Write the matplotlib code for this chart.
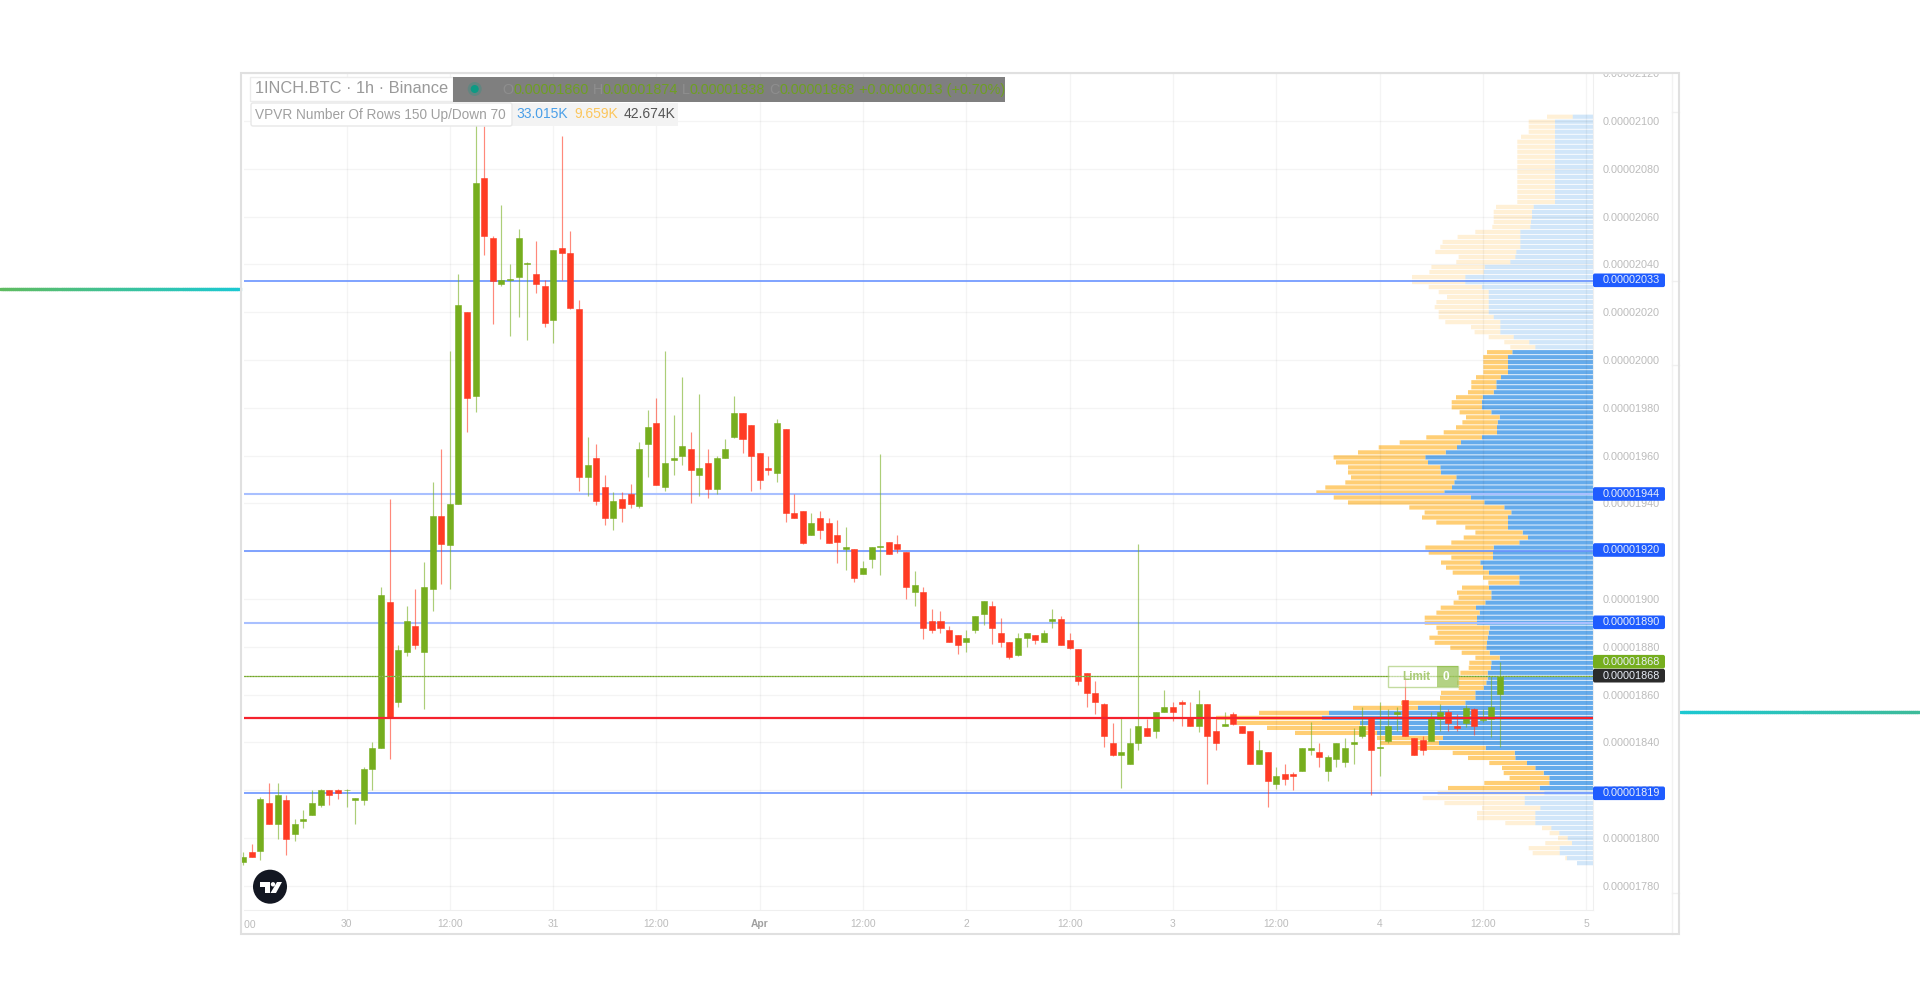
import numpy as np
import matplotlib
matplotlib.use("Agg")
import matplotlib.pyplot as plt
from matplotlib.collections import LineCollection
from matplotlib.colors import LinearSegmentedColormap
from matplotlib.patches import Circle, FancyBboxPatch, Polygon, Rectangle
from matplotlib.transforms import Affine2D, Bbox

plt.rcParams["font.family"] = ["Liberation Sans", "DejaVu Sans"]

# prices are in units of 0.00000001 BTC, hours count from 30 March 00:00
first_hour = -12

candle_open = [
    1790, 1794, 1794.7, 1814.8, 1805.8, 1816, 1801.8, 1807, 1809.8, 1813.7,
    1820, 1819.9, 1820, 1816, 1816, 1828.7, 1837.8, 1898.9, 1857, 1877.9,
    1888.9, 1877.9, 1904, 1934.9, 1922.8, 1939.7, 2019.9, 1985, 2076, 2050.9,
    2031.8, 2033.4, 2034.8, 2040.1, 2036, 2030.9, 2016.7, 2046.7, 2044.9, 2021.2,
    1951.2, 1958.9, 1946.8, 1933.9, 1942, 1943.9, 1938.9, 1964.8, 1973.8, 1947,
    1958, 1960, 1962.8, 1951.9, 1956.9, 1945.9, 1958.9, 1967.8, 1978, 1973,
    1960.9, 1954.9, 1952.9, 1971, 1936, 1936.8, 1926.8, 1934, 1931.9, 1926.9,
    1920.9, 1920.9, 1910.4, 1916.9, 1921.6, 1923.7, 1922.9, 1919.8, 1902.8, 1902.8,
    1890.9, 1890.9, 1887, 1884.9, 1881.9, 1886.9, 1893.7, 1896.9, 1885.9, 1881.9,
    1876.7, 1883.9, 1884.9, 1881.9, 1891, 1891.8, 1882.8, 1878.9, 1868.9, 1860.9,
    1855.9, 1839.9, 1834.8, 1830.9, 1839.9, 1845.9, 1844.9, 1852.8, 1854.8, 1857,
    1850.7, 1846.8, 1855.9, 1844.9, 1846.8, 1852, 1846.8, 1844.9, 1830.9, 1835.8,
    1822.7, 1826.8, 1826.8, 1827.9, 1836.8, 1835.8, 1827.9, 1832.9, 1831.9, 1839.5,
    1842.8, 1850.6, 1837.5, 1840.8, 1852, 1857.7, 1841.8, 1841, 1840.8, 1849.8,
    1852.8, 1846.8, 1848, 1853.8, 1849.4, 1849.8, 1860.1,
]
candle_high = [
    1794, 1797.7, 1817, 1822.9, 1822.9, 1818, 1807.8, 1811.7, 1820, 1820.7,
    1820.3, 1820.7, 1820.7, 1816.9, 1829.8, 1840, 1904.9, 1942, 1880.7, 1897,
    1904, 1915.6, 1949.1, 1962.8, 2003.7, 2036.2, 2019.9, 2100, 2098, 2051.9,
    2064.8, 2040, 2055, 2041, 2049.9, 2033.7, 2046, 2093.9, 2054, 2025,
    1967.9, 1964.8, 1951.9, 1944.9, 1944.9, 1948, 1965.8, 1979, 1984, 2003.7,
    1977, 1992.7, 1970, 1986, 1962.8, 1959.8, 1967, 1985, 1978, 1973,
    1960.9, 1960, 1975.2, 1971, 1943.9, 1936.8, 1935.8, 1936.8, 1934, 1932.9,
    1930, 1920.9, 1915.9, 1921.9, 1960.7, 1923.7, 1926.9, 1919.8, 1911.8, 1904.9,
    1895.8, 1895, 1888.8, 1884.9, 1887, 1892.9, 1899, 1899, 1891.9, 1881.9,
    1885.9, 1885.9, 1884.9, 1887, 1895.8, 1892.9, 1885.9, 1878.9, 1868.9, 1865.8,
    1856.7, 1848, 1850.7, 1845.9, 1923, 1849.8, 1852.8, 1861.9, 1857, 1857.7,
    1857, 1861.9, 1855.9, 1849.8, 1852.7, 1852.7, 1846.8, 1844.9, 1841, 1835.8,
    1829.8, 1830.9, 1827.7, 1837.8, 1848.6, 1839.9, 1834.8, 1839.9, 1841.7, 1845.9,
    1854.9, 1850.6, 1856.9, 1853.9, 1854.9, 1867.5, 1841.8, 1842.6, 1852.8, 1855.9,
    1853.9, 1852, 1855.6, 1854.5, 1853.8, 1867.8, 1873.8,
]
candle_low = [
    1788.8, 1791.9, 1791, 1805.8, 1799.8, 1792.9, 1798.9, 1804, 1809.8, 1813.1,
    1813.8, 1816.2, 1813.1, 1805.8, 1813.8, 1820, 1837.8, 1833, 1855, 1876.1,
    1878.9, 1854.2, 1895.1, 1906.3, 1904, 1939.7, 1970, 1978.1, 2043.9, 2015,
    2031.1, 2010, 2018.1, 2008.3, 2027.9, 2013.9, 2007, 2033.7, 2021.2, 1945.2,
    1943.2, 1939.3, 1930.9, 1929.1, 1932.1, 1937.9, 1938.3, 1951.2, 1947.8, 1945.2,
    1951.9, 1956, 1940, 1943.2, 1942.1, 1943.9, 1958.9, 1967.2, 1960.9, 1945.2,
    1945.9, 1951.9, 1949.1, 1932.1, 1933.9, 1923, 1926.8, 1925, 1923.6, 1914.9,
    1912.1, 1907, 1910.4, 1913.1, 1910, 1919, 1919.1, 1900, 1897, 1883.1,
    1886, 1886, 1881.9, 1876.9, 1877.9, 1886, 1889.1, 1881, 1880, 1875,
    1876.1, 1880, 1881, 1881.9, 1888, 1880.9, 1878.9, 1864, 1854.9, 1852.1,
    1837.9, 1834.3, 1821, 1830.9, 1837, 1842.8, 1841.7, 1852.8, 1848.9, 1847,
    1846.8, 1844.2, 1822.8, 1837, 1846.8, 1847.1, 1843.8, 1830.9, 1830.9, 1813,
    1820.7, 1822, 1820, 1827.9, 1834.8, 1829.8, 1824, 1829.8, 1829.8, 1830.9,
    1842, 1818, 1825.9, 1839.9, 1845, 1842.8, 1834.8, 1834.8, 1840.8, 1844.9,
    1844.9, 1844.9, 1846.3, 1843.1, 1848.7, 1842.1, 1838.2,
]
candle_close = [
    1792, 1792, 1816.2, 1805.8, 1818, 1799.8, 1805.8, 1807.8, 1814.8, 1820,
    1817.9, 1818.8, 1820.2, 1816.8, 1828.7, 1837.8, 1901.9, 1850.8, 1878.6, 1891,
    1880.7, 1904.9, 1934.9, 1923, 1939.7, 2023, 1984, 2073.9, 2051.9, 2033,
    2033.4, 2034, 2050.9, 2040.8, 2031.8, 2015.7, 2046, 2044.9, 2021.6, 1951.2,
    1956, 1941, 1933.9, 1941, 1937.9, 1939.9, 1962.8, 1971.8, 1947.8, 1956.9,
    1958.9, 1964, 1954, 1954.9, 1945.9, 1958.9, 1962.8, 1978, 1966.9, 1960,
    1949.8, 1954, 1973.8, 1935.8, 1933.9, 1923.6, 1931.9, 1928.9, 1923.6, 1923.7,
    1921.9, 1908.6, 1913, 1921.9, 1922.2, 1919, 1920.9, 1904.9, 1905.8, 1887.8,
    1886.9, 1887.8, 1881.9, 1880.7, 1883.9, 1892.9, 1899, 1887.8, 1881.9, 1875.9,
    1883.9, 1885.9, 1882.8, 1885.9, 1891.8, 1880.9, 1879.7, 1865.8, 1860.9, 1857,
    1842.8, 1834.7, 1835.8, 1839.9, 1846.8, 1842.8, 1852.8, 1854.8, 1852.8, 1856,
    1846.8, 1855.9, 1842.8, 1839.9, 1847.8, 1847.8, 1843.8, 1830.9, 1836.9, 1823.8,
    1825.8, 1824.8, 1825.9, 1837.8, 1837.8, 1833.9, 1833.9, 1839.9, 1837.8, 1840.1,
    1847, 1836.8, 1838.2, 1846.8, 1852.7, 1842.8, 1834.8, 1836.8, 1850.6, 1852.7,
    1848, 1846, 1854.5, 1846.9, 1850, 1854.7, 1867.8,
]

# volume profile rows, top row first
up_volume = [
    20.3, 38, 38, 38, 38, 38, 38, 38, 38, 38,
    38, 38, 38, 38, 38, 38, 38, 38, 59.3, 61,
    61, 62, 62.7, 72.7, 72.7, 72.7, 72.7, 76.7, 77.7, 82.7,
    108.3, 109.3, 127.7, 127.7, 111, 104.3, 104.3, 104.3, 104.3, 104.3,
    99.3, 92.7, 92.7, 92.7, 79.3, 63.7, 57.7, 80.7, 85, 85,
    85, 85, 92, 96.7, 96.7, 99.3, 110.3, 111, 111, 101.7,
    93.3, 95.3, 96, 96, 111, 132, 136, 147.3, 167.7, 165,
    152.7, 152, 136.7, 138.7, 141, 148.7, 122, 108.7, 88.7, 81.7,
    85, 85, 85, 70.3, 65, 73.7, 99.3, 100, 100, 112.7,
    110, 104, 73.7, 73.7, 104, 101.7, 101.7, 107.7, 117, 113.3,
    116, 116, 103.3, 104.3, 105.3, 106, 106.7, 103.3, 93.3, 101.7,
    102, 105.3, 105.3, 106.7, 109.3, 117.7, 117.7, 127.7, 175, 264,
    271, 233, 223, 216, 150, 154, 107.3, 78.3, 77.7, 66,
    57.7, 49.3, 43.7, 43.7, 53.3, 48.7, 68.3, 68.3, 52.7, 57.7,
    57.7, 57.7, 41.7, 33.7, 25.3, 21, 33.3, 33.3, 26, 16,
]
down_volume = [
    25.7, 26.3, 26.3, 26.3, 34, 37.7, 37.7, 37.7, 37.7, 37.7,
    37.7, 37.7, 37.7, 37.7, 37.7, 37.7, 37.7, 37.7, 37.7, 38.3,
    38.3, 37.3, 38, 45, 62.7, 77.7, 80, 81, 56.7, 54,
    53.3, 54.3, 53.3, 53.3, 53.3, 50, 41.7, 52.3, 54, 50,
    55, 55, 29.3, 25.7, 25, 25, 25, 25.3, 24.7, 24.7,
    24.7, 24.7, 25, 25, 25, 25.7, 26.7, 30.3, 30.3, 31.7,
    33.7, 35.3, 41, 53.3, 55.7, 61.3, 78.3, 87.7, 91.7, 92,
    92.3, 93, 105.3, 109, 126.7, 128, 137.3, 136.3, 95, 86.7,
    86, 71.7, 42.7, 47.3, 64.3, 68, 68.3, 64.3, 41.7, 39.3,
    37, 36.3, 36.3, 31, 27, 34.3, 32.7, 31.7, 35.3, 43.3,
    52.3, 52.3, 53.3, 51, 58.3, 52.3, 36, 28, 24.3, 22,
    22.3, 27.3, 29, 29.3, 25, 34.3, 35.3, 64.3, 65, 70,
    106, 123, 103, 82, 66, 59, 69, 62, 47.3, 37.7,
    33.3, 40, 39.7, 65, 91.7, 106.7, 102, 80.3, 58.3, 58.3,
    58.3, 30, 9.3, 9.7, 9.7, 26.7, 31, 27, 1.7, 0,
]
value_area_first = 47
value_area_last = 134

blue_levels = [2033, 1944, 1920, 1890, 1819]
pale_levels = [1944, 1890]
red_level = 1850.3
limit_level = 1868

price_ticks = list(range(1780, 2121, 20))
price_tick_labels = [f"0.0000{p}" for p in price_ticks]
time_ticks = list(range(0, 145, 12))
time_tick_labels = ["30", "12:00", "31", "12:00", "Apr", "12:00", "2", "12:00", "3",
                    "12:00", "4", "12:00", "5"]

price_tags = [
    ("0.00002033", 280.3, "#1f5cff"),
    ("0.00001944", 494, "#1f5cff"),
    ("0.00001920", 550, "#1f5cff"),
    ("0.00001890", 622.3, "#1f5cff"),
    ("0.00001819", 793.3, "#1f5cff"),
    ("0.00001868", 661.7, "#76ae1e"),
    ("0.00001868", 675.7, "#2b2b2b"),
]

GREEN = "#76ae1e"
RED = "#ff3b24"
UP_COLOR = "#4a9ce8"
DOWN_COLOR = "#ffc65c"
GRID_ALPHA = 0.045

W, H = 1920, 1008
fig = plt.figure(figsize=(W / 100, H / 100), dpi=100, facecolor="white")
# decorations outside the scales are placed in image pixels
px = Affine2D().scale(1, -1).translate(0, H)


def px_axes(left, top, right, bottom):
    return [left / W, 1 - bottom / H, (right - left) / W, (bottom - top) / H]


def px_text(x, y, s, **kw):
    kw.setdefault("va", "center")
    kw.setdefault("zorder", 20)
    return fig.text(x, y, s, transform=px, **kw)


def px_rect(x0, y0, x1, y1, rounded=False, **kw):
    kw.setdefault("zorder", 15)
    if rounded:
        patch = FancyBboxPatch((x0 + 2, y0 + 2), x1 - x0 - 4, y1 - y0 - 4,
                               boxstyle="round,pad=2,rounding_size=2", transform=px, **kw)
    else:
        patch = Rectangle((x0, y0), x1 - x0, y1 - y0, transform=px, **kw)
    fig.add_artist(patch)
    return patch


def px_line(x0, y0, x1, y1, **kw):
    line = plt.Line2D([x0, x1], [y0, y1], transform=px, **kw)
    fig.add_artist(line)


def gradient_line(x0, x1, y, left_color, right_color):
    xs = np.linspace(x0, x1, 120)
    segs = [[(a, y), (b, y)] for a, b in zip(xs[:-1], xs[1:])]
    cmap = LinearSegmentedColormap.from_list("g", [left_color, right_color])
    lc = LineCollection(segs, colors=cmap(np.linspace(0, 1, len(segs))), linewidths=2.3,
                        transform=px, capstyle="projecting", zorder=1)
    fig.add_artist(lc)


# volume profile sits under the chart axes
ax = fig.add_axes(px_axes(244, 73, 1593, 910), zorder=2)
ax.patch.set_visible(False)
ax.set_xlim(-11.91, 144.8)
ax.set_ylim(1769.9, 2120.1)

ax_vp = fig.add_axes(px_axes(244, 73, 1593, 910), zorder=1, sharey=ax)
ax_vp.set_xlim(1349, 0)
ax_vp.axis("off")

up = np.array(up_volume)
down = np.array(down_volume)
rows = np.arange(len(up))
row_prices = 2101.8 - rows * 2.096
strong = (rows >= value_area_first) & (rows <= value_area_last)
for mask, alpha in ((strong, 0.85), (~strong, 0.25)):
    ax_vp.barh(row_prices[mask], up[mask], height=1.75, color=UP_COLOR, alpha=alpha, linewidth=0, snap=False)
    ax_vp.barh(row_prices[mask], down[mask], left=up[mask], height=1.75, color=DOWN_COLOR,
               alpha=alpha, linewidth=0, snap=False)

# grid and axes
ax.set_xticks(time_ticks)
ax.set_xticklabels(time_tick_labels)
ax.set_yticks(price_ticks)
ax.set_yticklabels(price_tick_labels)
ax.yaxis.tick_right()
ax.tick_params(axis="y", length=0, pad=7.2, labelsize=7.8, labelcolor="#bcbcbc")
ax.tick_params(axis="x", length=0, pad=6.5, labelsize=7.4, labelcolor="#bcbcbc")
ax.grid(True, color="black", alpha=GRID_ALPHA, linewidth=1)
ax.set_axisbelow(True)
for name in ("top", "left"):
    ax.spines[name].set_visible(False)
for name in ("bottom", "right"):
    ax.spines[name].set_color("#efefef")
    ax.spines[name].set_linewidth(0.8)

for label in ax.get_xticklabels():
    if label.get_text() == "Apr":
        label.set_fontweight("bold")
        label.set_color("#a0a0a0")

# top price label is cut by the frame
top_label = ax.get_yticklabels()[-1]
top_label.set_clip_box(Bbox([[0, 0], [W, H - 73]]))
top_label.set_clip_on(True)

# first time label is cut by the left edge
left_label = ax.text(-12, -0.0178, "12:00", transform=ax.get_xaxis_transform(), ha="center", va="center",
                     fontsize=7.4, color="#bcbcbc")
left_label.set_clip_path(None)
left_label.set_clip_box(Bbox([[244, 0], [W, H]]))
left_label.set_clip_on(True)

# levels
for level in blue_levels:
    if level in pale_levels:
        ax.axhline(level, color="#a9c0ff", linewidth=1.5, zorder=2)
    else:
        ax.axhline(level, color="#6a93ff", linewidth=1.2, zorder=2)

# candles
hours = first_hour + np.arange(len(candle_open))
opens = np.array(candle_open)
closes = np.array(candle_close)
colors = np.where(closes >= opens, GREEN, RED)
ax.vlines(hours, candle_low, candle_high, colors=colors, linewidth=0.85, alpha=0.6, zorder=3, clip_on=False)
ax.bar(hours, np.abs(closes - opens), bottom=np.minimum(opens, closes), width=0.7, color=colors,
       edgecolor=colors, linewidth=0.4, zorder=3.5, clip_on=False)

ax.axhline(red_level, color="#f5222d", linewidth=1.6, zorder=4)
ax.axhline(limit_level, color="#92bf52", linewidth=0.9, zorder=4)
ax.axhline(limit_level, color="#6f9e2a", linewidth=0.8, linestyle=(0, (1, 1.5)), zorder=4.1)

# frame around the chart
px_rect(241, 73, 1679, 934, fill=False, edgecolor="#e0e0e0", linewidth=1.5, zorder=12)
px_line(1672, 73, 1672, 934, color="#f2f2f2", linewidth=1, zorder=1)
for y in (112, 281, 365, 893):
    px_line(1672, y, 1679, y, color="#f0f0f0", linewidth=1, zorder=1)

# lines leaving the frame on both sides
gradient_line(0, 240, 289.3, "#5fbb5f", "#1cc8d2")
gradient_line(1681, 1920, 711.7, "#1cc8d2", "#3dbb9a")

# legend, first row
px_rect(250, 77, 453, 101, facecolor="white", edgecolor="#ececec", linewidth=1)
px_text(255, 88.8, "1INCH.BTC \u00b7 1h \u00b7 Binance", fontsize=11.8, color="#9a9a9a")
px_rect(453, 77, 1005, 102, facecolor="#7f7f7f", edgecolor="none")
fig.add_artist(Circle((474.7, 89), 7, transform=px, facecolor="#0d9a84", alpha=0.25, zorder=16))
fig.add_artist(Circle((474.7, 89), 4, transform=px, facecolor="#0d9a84", zorder=17))
ohlc = [(502, "O", "0.00001860"), (592.5, "H", "0.00001874"), (682, "L", "0.00001838"),
        (769, "C", "0.00001868")]
for x, letter, value in ohlc:
    t = px_text(x, 90, letter, fontsize=10.4, color="#8e8e8e")
    width = t.get_window_extent(fig.canvas.get_renderer()).width
    px_text(x + width, 90, value, fontsize=10.4, color="#6f9f23")
px_text(859, 90, "+0.00000013 (+0.70%)", fontsize=10.4, color="#6f9f23")

# legend, second row
px_rect(512, 103, 678, 126, facecolor="#f3f3f3", edgecolor="none", zorder=14)
px_rect(251, 103, 512, 126, rounded=True, facecolor="white", edgecolor="#e8e8e8", linewidth=1)
px_text(255, 114.5, "VPVR Number Of Rows 150 Up/Down 70", fontsize=9.85, color="#a0a0a0")
px_text(516.8, 114.5, "33.015K", fontsize=10, color="#4a9fe8")
px_text(574, 114.5, "9.659K", fontsize=10, color="#fcc65c")
px_text(623.6, 114.5, "42.674K", fontsize=10, color="#555555")

# logo
fig.add_artist(Circle((270, 886.7), 17, transform=px, facecolor="#131722", zorder=15))
logo_shapes = [
    [(260, 882), (269.5, 882), (269.5, 893), (265, 893), (265, 886.5), (260, 886.5)],
    [(277, 882), (282, 882), (276, 893), (270.5, 893)],
]
for shape in logo_shapes:
    fig.add_artist(Polygon(shape, closed=True, transform=px, facecolor="white", zorder=16))
fig.add_artist(Circle((273, 884.3), 2.2, transform=px, facecolor="white", zorder=16))

# limit order tag
px_rect(1388, 666, 1458, 687, facecolor="white", edgecolor="#92bf52", linewidth=1, alpha=0.55, zorder=5)
px_rect(1437, 666, 1458, 687, facecolor="#76ae1e", edgecolor="none", alpha=0.55, zorder=5.1)
px_text(1416, 676.5, "Limit", fontsize=8.5, fontweight="bold", color="#a9cb76", ha="center", zorder=6)
px_text(1445.5, 676.5, "0", fontsize=8.5, fontweight="bold", color="white", ha="center", zorder=6)

# price tags on the scale
for label, y, color in price_tags:
    px_rect(1593, y - 6.8, 1665, y + 6.8, rounded=True, facecolor=color, edgecolor="none")
    px_text(1603, y, label, fontsize=7.8, color="#e9eef8")

fig.savefig("out.png", dpi=100, facecolor="white")
